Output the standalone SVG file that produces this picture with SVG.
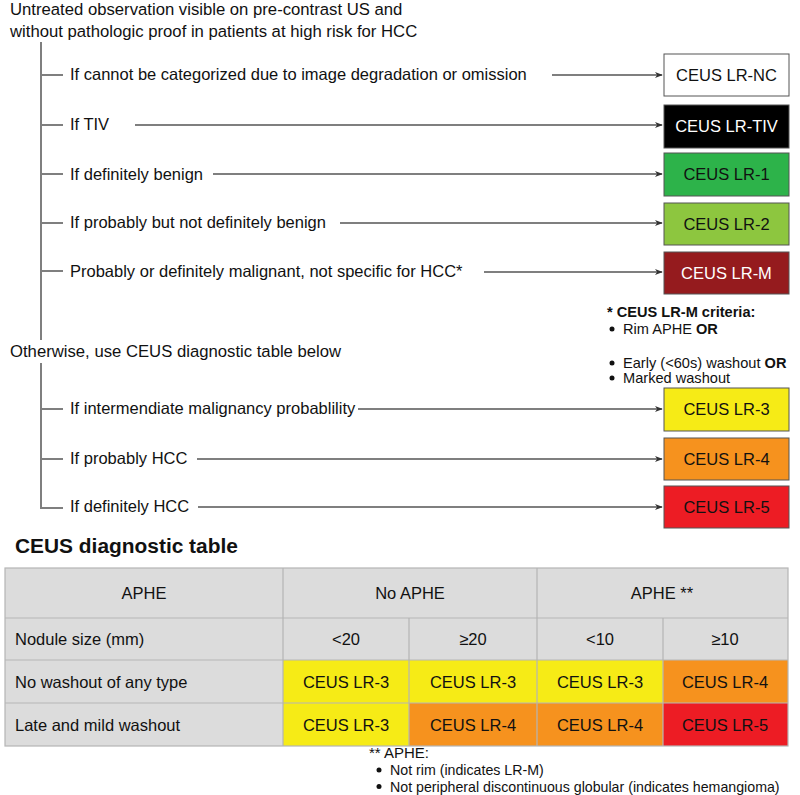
<svg xmlns="http://www.w3.org/2000/svg" width="800" height="795" viewBox="0 0 800 795">
<style>
text{font-family:"Liberation Sans",Arial,sans-serif;fill:#111}
.t{font-size:16.7px}
.r{font-size:16.5px}
.b{font-size:16.5px;text-anchor:middle}
.n{font-size:14.6px}
.f{font-size:14.2px}
.tree{stroke:#7f7f7f;stroke-width:2;fill:none}
.arr{stroke:#555;stroke-width:1.3;fill:none;marker-end:url(#ah)}
.box{stroke:#555;stroke-width:1}
.c{stroke:#b5b5b5;stroke-width:1.2}
.tc{font-size:16.5px;text-anchor:middle}
</style>
<defs>
<marker id="ah" viewBox="0 0 10 10" refX="9" refY="5" markerWidth="8" markerHeight="8" markerUnits="userSpaceOnUse" orient="auto">
<path d="M0,1 L10,5 L0,9 L3,5 Z" fill="#333"/>
</marker>
</defs>
<rect width="800" height="795" fill="#fff"/>
<text class="t" x="10" y="15">Untreated observation visible on pre-contrast US and</text>
<text class="t" x="10" y="37">without pathologic proof in patients at high risk for HCC</text>
<text class="t" x="10" y="357">Otherwise, use CEUS diagnostic table below</text>
<g id="connectors">
<path class="tree" d="M41,42 V340 M41,75 H63 M41,125 H63 M41,174 H63 M41,223 H63 M41,271 H63"/>
<path class="tree" d="M41,363 V508 H63 M41,409 H63 M41,459 H63"/>
<path class="arr" d="M552,75 H662"/>
<path class="arr" d="M135,125 H662"/>
<path class="arr" d="M213,174 H662"/>
<path class="arr" d="M340,223 H662"/>
<path class="arr" d="M484,272 H662"/>
<path class="arr" d="M358,409 H662"/>
<path class="arr" d="M197,459 H662"/>
<path class="arr" d="M198,507 H662"/>
</g>
<text class="r" x="70" y="80">If cannot be categorized due to image degradation or omission</text>
<text class="r" x="70" y="130">If TIV</text>
<text class="r" x="70" y="180">If definitely benign</text>
<text class="r" x="70" y="228">If probably but not definitely benign</text>
<text class="r" x="70" y="277">Probably or definitely malignant, not specific for HCC*</text>
<text class="r" x="70" y="414">If intermendiate malignancy probablility</text>
<text class="r" x="70" y="464">If probably HCC</text>
<text class="r" x="70" y="512">If definitely HCC</text>
<g id="lr-nc"><rect class="box" x="664" y="54" width="125" height="42" fill="#fff"/><text class="b" x="726.5" y="81">CEUS LR-NC</text></g>
<g id="lr-tiv"><rect class="box" x="664" y="105" width="125" height="43" fill="#000"/><text class="b" x="726.5" y="132" style="fill:#fff">CEUS LR-TIV</text></g>
<g id="lr-1"><rect class="box" x="664" y="153" width="125" height="43" fill="#2db34a"/><text class="b" x="726.5" y="180">CEUS LR-1</text></g>
<g id="lr-2"><rect class="box" x="664" y="203" width="125" height="42" fill="#8dc63f"/><text class="b" x="726.5" y="230">CEUS LR-2</text></g>
<g id="lr-m"><rect class="box" x="664" y="252" width="125" height="42" fill="#951b1e"/><text class="b" x="726.5" y="279" style="fill:#fff">CEUS LR-M</text></g>
<g id="lr-3"><rect class="box" x="664" y="388" width="125" height="43" fill="#f6eb16"/><text class="b" x="726.5" y="415">CEUS LR-3</text></g>
<g id="lr-4"><rect class="box" x="664" y="438" width="125" height="42" fill="#f6921e"/><text class="b" x="726.5" y="465">CEUS LR-4</text></g>
<g id="lr-5"><rect class="box" x="664" y="486" width="125" height="42" fill="#ed1c24"/><text class="b" x="726.5" y="513">CEUS LR-5</text></g>
<g id="lrm-note">
<text class="n" x="607" y="317" font-weight="bold">* CEUS LR-M criteria:</text>
<circle cx="612" cy="329" r="2.5" fill="#111"/><text class="n" x="623" y="334">Rim APHE <tspan font-weight="bold">OR</tspan></text>
<circle cx="612" cy="363" r="2.5" fill="#111"/><text class="n" x="623" y="368">Early (&lt;60s) washout <tspan font-weight="bold">OR</tspan></text>
<circle cx="612" cy="378" r="2.5" fill="#111"/><text class="n" x="623" y="383">Marked washout</text>
</g>
<text x="15" y="553" font-size="20.9" font-weight="bold">CEUS diagnostic table</text>
<g id="table">
<rect x="5" y="568" width="783" height="178" fill="#dcdcdc"/>
<rect x="283" y="660" width="126" height="43" fill="#f6eb16"/>
<rect x="409" y="660" width="128" height="43" fill="#f6eb16"/>
<rect x="537" y="660" width="126" height="43" fill="#f6eb16"/>
<rect x="663" y="660" width="125" height="43" fill="#f6921e"/>
<rect x="283" y="703" width="126" height="43" fill="#f6eb16"/>
<rect x="409" y="703" width="128" height="43" fill="#f6921e"/>
<rect x="537" y="703" width="126" height="43" fill="#f6921e"/>
<rect x="663" y="703" width="125" height="43" fill="#ed1c24"/>
<rect class="c" x="5" y="568" width="783" height="178" fill="none"/>
<path class="c" d="M5,618 H788 M5,660 H788 M5,703 H788 M283,568 V746 M537,568 V746 M409,618 V746 M663,618 V746"/>
<text class="tc" x="144" y="599">APHE</text>
<text class="tc" x="410" y="599">No APHE</text>
<text class="tc" x="662" y="599">APHE **</text>
<text class="r" x="15" y="645">Nodule size (mm)</text>
<text class="tc" x="346" y="645">&lt;20</text>
<text class="tc" x="473" y="645">≥20</text>
<text class="tc" x="600" y="645">&lt;10</text>
<text class="tc" x="725" y="645">≥10</text>
<text class="r" x="15" y="688">No washout of any type</text>
<text class="tc" x="346" y="688">CEUS LR-3</text>
<text class="tc" x="473" y="688">CEUS LR-3</text>
<text class="tc" x="600" y="688">CEUS LR-3</text>
<text class="tc" x="725" y="688">CEUS LR-4</text>
<text class="r" x="15" y="731">Late and mild washout</text>
<text class="tc" x="346" y="731">CEUS LR-3</text>
<text class="tc" x="473" y="731">CEUS LR-4</text>
<text class="tc" x="600" y="731">CEUS LR-4</text>
<text class="tc" x="725" y="731">CEUS LR-5</text>
</g>
<g id="aphe-note">
<text x="369" y="758" font-size="15">** APHE:</text>
<circle cx="379" cy="770" r="2.5" fill="#111"/><text class="f" x="390" y="775">Not rim (indicates LR-M)</text>
<circle cx="379" cy="786.5" r="2.5" fill="#111"/><text class="f" x="390" y="791.5">Not peripheral discontinuous globular (indicates hemangioma)</text>
</g>
</svg>
